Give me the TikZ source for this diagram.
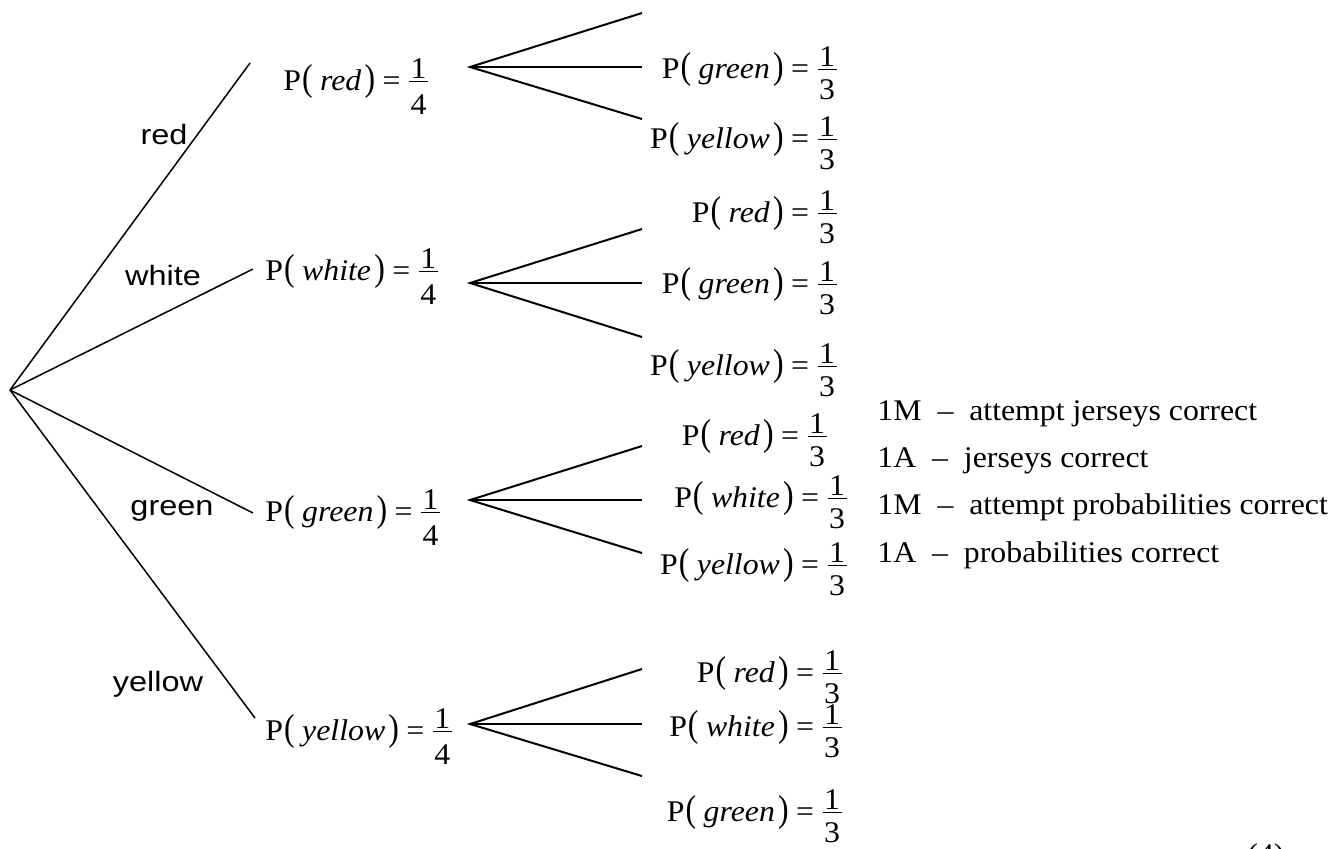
\documentclass[tikz,border=0pt]{standalone}
\usepackage{fontspec}
\setmainfont{Liberation Serif}
\setsansfont{Liberation Sans}
\usepackage{graphicx}
\newcommand\bp[1]{\scalebox{1}[1.25]{#1}}
% fraction: numerator, denominator, drop of the denominator's baseline
\newcommand\fr[3]{\hbox to 0.6em{\hss\raisebox{6pt}{#1}\hss}\kern-0.6em\hbox to 0.6em{\hss\raisebox{4.25pt}{\rule{0.6em}{0.5pt}}\hss}\kern-0.6em\hbox to 0.6em{\hss\raisebox{-#3}{#2}\hss}}
\newcommand\pr[3]{P\kern0.5pt\bp{(}\kern3.5pt\textit{#1}\kern1.5pt\bp{)}\kern3.5pt=\kern4pt\fr{1}{#2}{#3}}
\begin{document}
\begin{tikzpicture}[x=0.5pt,y=-0.5pt,
  lab/.style={inner sep=0pt, font=\fontsize{15}{18}\selectfont, xscale=1.06},
  br/.style={inner sep=0pt, font=\sffamily\fontsize{14}{17}\selectfont, xscale=1.16},
  lone/.style={line width=0.75pt},
  ltwo/.style={line width=1pt}]
\useasboundingbox (0,0) rectangle (1338,848);
% root and first level
\coordinate (root) at (10,390);
\coordinate (e1) at (250,63);
\coordinate (e2) at (253,269);
\coordinate (e3) at (253,513);
\coordinate (e4) at (255,718);
\draw[lone] (root) -- (e1);
\draw[lone] (root) -- (e2);
\draw[lone] (root) -- (e3);
\draw[lone] (root) -- (e4);
\node[br, anchor=base] (lred) at (164,144) {red};
\node[br, anchor=base] (lwhite) at (163,285) {white};
\node[br, anchor=base] (lgreen) at (172,515) {green};
\node[br, anchor=base] (lyellow) at (158,691) {yellow};
\node[lab, anchor=base west] (p1) at (283,90) {\pr{red}{4}{12pt}};
\node[lab, anchor=base west] (p2) at (265,280) {\pr{white}{4}{12pt}};
\node[lab, anchor=base west] (p3) at (265,521) {\pr{green}{4}{12pt}};
\node[lab, anchor=base west] (p4) at (265,740) {\pr{yellow}{4}{12pt}};
% fans
\coordinate (f1) at (470,67);
\coordinate (f1a) at (642,13);
\coordinate (f1b) at (642,67);
\coordinate (f1c) at (642,119);
\coordinate (f2) at (470,283);
\coordinate (f2a) at (642,229);
\coordinate (f2b) at (642,283);
\coordinate (f2c) at (642,337);
\coordinate (f3) at (470,500);
\coordinate (f3a) at (642,446);
\coordinate (f3b) at (642,500);
\coordinate (f3c) at (642,553);
\coordinate (f4) at (470,724);
\coordinate (f4a) at (642,669);
\coordinate (f4b) at (642,724);
\coordinate (f4c) at (642,776);
\foreach \f in {f1,f2,f3,f4}{
  \draw[ltwo] (\f a) -- (\f) -- (\f c);
  \draw[ltwo] (\f) -- (\f b);
}
% second-level labels
\node[lab, anchor=base east] (q1b) at (837,78) {\pr{green}{3}{10.5pt}};
\node[lab, anchor=base east] (q1c) at (837,148) {\pr{yellow}{3}{10.5pt}};
\node[lab, anchor=base east] (q2a) at (837,222) {\pr{red}{3}{10.5pt}};
\node[lab, anchor=base east] (q2b) at (837,293) {\pr{green}{3}{10.5pt}};
\node[lab, anchor=base east] (q2c) at (837,375) {\pr{yellow}{3}{10.5pt}};
\node[lab, anchor=base east] (q3a) at (827,445) {\pr{red}{3}{10.5pt}};
\node[lab, anchor=base east] (q3b) at (847,507) {\pr{white}{3}{10.5pt}};
\node[lab, anchor=base east] (q3c) at (847,574) {\pr{yellow}{3}{10.5pt}};
\node[lab, anchor=base east] (q4a) at (842,682) {\pr{red}{3}{10.5pt}};
\node[lab, anchor=base east] (q4b) at (842,736) {\pr{white}{3}{10.5pt}};
\node[lab, anchor=base east] (q4c) at (842,821) {\pr{green}{3}{10.5pt}};
% marking notes
\node[lab, anchor=base west] (m1) at (877,420) {1M\enspace–\enspace attempt jerseys correct};
\node[lab, anchor=base west] (m2) at (877,467) {1A\enspace–\enspace jerseys correct};
\node[lab, anchor=base west] (m3) at (877,514) {1M\enspace–\enspace attempt probabilities correct};
\node[lab, anchor=base west] (m4) at (877,562) {1A\enspace–\enspace probabilities correct};
\node[lab, anchor=north] (mk) at (1266,843) {(4)};
\end{tikzpicture}
\end{document}
